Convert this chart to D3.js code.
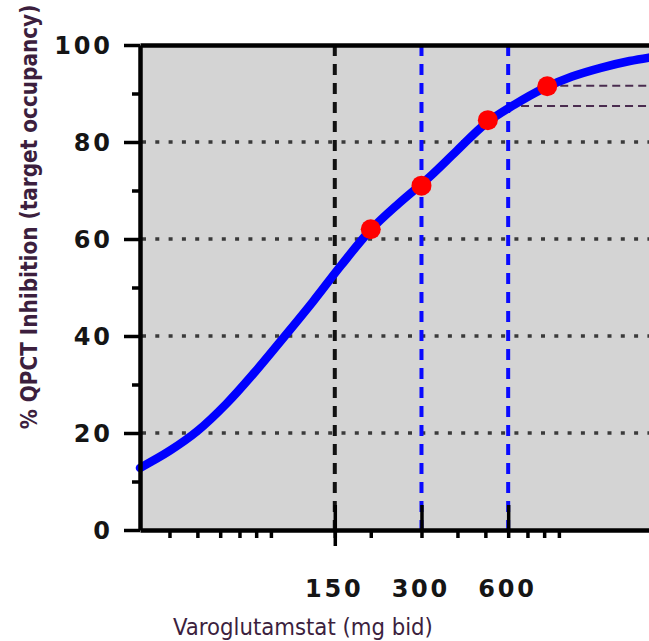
<!DOCTYPE html>
<html>
<head>
<meta charset="utf-8">
<script src="https://cdn.jsdelivr.net/npm/d3@7"></script>
<style>
body { margin: 0; background: #fff; }
</style>
</head>
<body>
<script>
// curve (dose mg, % inhibition)
var curveDose = [31.6, 40, 50, 63, 79, 100, 126, 158, 200, 251, 316, 398, 501, 631, 794, 1000, 1259, 1585, 1850];
var curvePct  = [12.8, 16.3, 20.4, 26.0, 32.5, 39.8, 47.1, 54.6, 61.9, 67.4, 72.5, 78.2, 83.8, 87.7, 91.0, 93.5, 95.3, 96.7, 97.4];

// red dots
var pointDose = [200, 300, 510, 820];
var pointPct  = [62, 71, 84.5, 91.5];

// vertical dashed dose lines
var doseLines = [150, 300, 600];

// horizontal purple dashed lines
var refStart = [820, 665];
var refPct   = [91.6, 87.4];

var yTicks = [0, 20, 40, 60, 80, 100];
var yMinor = [10, 30, 50, 70, 90];
var gridPct = [20, 40, 60, 80];
var xLabelTicks = [150, 300, 600];
var xMinor = [40, 50, 60, 70, 80, 90, 200, 400, 500, 700, 800, 900];

var xTitle = "Varoglutamstat (mg bid)";
var yTitle = "% QPCT Inhibition  (target occupancy)";

var W = 649, H = 641;
var plotLeft = 140, plotRight = 649, plotTop = 45, plotBottom = 530;
var textColor = "#3c1f3e";

var svg = d3.select("body").append("svg").attr("width", W).attr("height", H);

var x = d3.scaleLog().domain([31.6, 1850]).range([plotLeft, plotRight]);
var y = d3.scaleLinear().domain([0, 100]).range([plotBottom, plotTop]);

// plot background
svg.append("rect")
    .attr("x", plotLeft).attr("y", plotTop)
    .attr("width", plotRight - plotLeft).attr("height", plotBottom - plotTop)
    .attr("fill", "#d4d4d4");

// dotted horizontal grid
svg.append("g").selectAll("line")
    .data(gridPct).enter().append("line")
    .attr("x1", plotLeft).attr("x2", plotRight)
    .attr("y1", function(d) { return y(d); })
    .attr("y2", function(d) { return y(d); })
    .attr("stroke", "#3a3a3a")
    .attr("stroke-width", 3.5)
    .attr("stroke-dasharray", "4,9.3")
    .attr("stroke-dashoffset", -2);

// dashed dose lines (150 black, others blue)
svg.append("g").selectAll("line")
    .data(doseLines).enter().append("line")
    .attr("x1", function(d) { return x(d); })
    .attr("x2", function(d) { return x(d); })
    .attr("y1", y(100)).attr("y2", y(0))
    .attr("stroke", function(d, i) { return i == 0 ? "#111" : "#0a0aff"; })
    .attr("stroke-width", 4)
    .attr("stroke-dasharray", "11,8");

// purple reference lines
svg.append("g").selectAll("line")
    .data(refPct).enter().append("line")
    .attr("x1", function(d, i) { return x(refStart[i]); })
    .attr("x2", plotRight)
    .attr("y1", function(d) { return y(d); })
    .attr("y2", function(d) { return y(d); })
    .attr("stroke", "#4a2c4f")
    .attr("stroke-width", 2)
    .attr("stroke-dasharray", "8,5");

// curve
var curveData = curveDose.map(function(d, i) { return { dose: d, pct: curvePct[i] }; });
var line = d3.line()
    .x(function(d) { return x(d.dose); })
    .y(function(d) { return y(d.pct); })
    .curve(d3.curveCatmullRom);

svg.append("path")
    .datum(curveData)
    .attr("d", line)
    .attr("fill", "none")
    .attr("stroke", "#0000ff")
    .attr("stroke-width", 8.5)
    .attr("stroke-linecap", "round");

svg.append("g").selectAll("circle")
    .data(pointDose).enter().append("circle")
    .attr("cx", function(d) { return x(d); })
    .attr("cy", function(d, i) { return y(pointPct[i]); })
    .attr("r", 10)
    .attr("fill", "#ff0000");

// axes
function styleAxis(g, w) {
    g.selectAll("path").attr("stroke", "#000").attr("stroke-width", w);
    g.selectAll("line").attr("stroke", "#000").attr("stroke-width", 3.5);
    g.selectAll("text").remove();
}

svg.append("g")
    .attr("transform", "translate(0," + y(100) + ")")
    .call(d3.axisTop(x).tickValues([]).tickSizeOuter(0))
    .call(styleAxis, 4.5);

svg.append("g")
    .attr("transform", "translate(0," + plotBottom + ")")
    .call(d3.axisBottom(x).tickValues(xMinor.concat(xLabelTicks)).tickSize(8).tickSizeOuter(0))
    .call(styleAxis, 4.5);

svg.append("g")
    .attr("transform", "translate(0," + plotBottom + ")")
    .call(d3.axisBottom(x).tickValues([150]).tickSize(16).tickSizeOuter(0))
    .call(styleAxis, 0);

// short inward ticks at the labelled doses
svg.append("g")
    .attr("transform", "translate(0," + plotBottom + ")")
    .call(d3.axisBottom(x).tickValues(xLabelTicks).tickSizeInner(-25).tickSizeOuter(0))
    .call(styleAxis, 0);

svg.append("g")
    .attr("transform", "translate(" + plotLeft + ",0)")
    .call(d3.axisLeft(y).tickValues(yMinor).tickSize(8).tickSizeOuter(0))
    .call(styleAxis, 0);

svg.append("g")
    .attr("transform", "translate(" + plotLeft + ",0)")
    .call(d3.axisLeft(y).tickValues(yTicks).tickSize(16).tickSizeOuter(0))
    .call(styleAxis, 4.5);

// tick labels
var ls = 2.8;
svg.append("g").selectAll("text")
    .data(yTicks).enter().append("text")
    .attr("x", 110 + ls)
    .attr("y", function(d) { return y(d); })
    .attr("dy", "0.36em")
    .attr("text-anchor", "end")
    .style("font-family", "'DejaVu Sans', sans-serif")
    .style("font-weight", "bold")
    .style("font-size", "24px")
    .style("letter-spacing", ls + "px")
    .attr("fill", "#151515")
    .text(function(d) { return d; });

svg.append("g").selectAll("text")
    .data(xLabelTicks).enter().append("text")
    .attr("x", function(d) { return x(d) + ls / 2 - 2; })
    .attr("y", plotBottom + 67)
    .attr("text-anchor", "middle")
    .style("font-family", "'DejaVu Sans', sans-serif")
    .style("font-weight", "bold")
    .style("font-size", "24px")
    .style("letter-spacing", ls + "px")
    .attr("fill", "#151515")
    .text(function(d) { return d; });

// titles, sized to the width they take in the picture
function fitWidth(t, target) {
    var size = parseFloat(t.style("font-size"));
    var w = t.node().getComputedTextLength();
    t.style("font-size", (size * target / w) + "px");
}

var xt = svg.append("text")
    .attr("x", 303).attr("y", 635)
    .attr("text-anchor", "middle")
    .style("font-family", "'DejaVu Sans Condensed', 'DejaVu Sans', sans-serif")
    .style("font-stretch", "condensed")
    .style("font-size", "22px")
    .attr("fill", textColor)
    .text(xTitle);
fitWidth(xt, 260);

var yt = svg.append("text")
    .attr("transform", "translate(37,217) rotate(-90)")
    .attr("text-anchor", "middle")
    .style("font-family", "'DejaVu Sans Condensed', 'DejaVu Sans', sans-serif")
    .style("font-stretch", "condensed")
    .style("font-weight", "bold")
    .style("font-size", "22px")
    .attr("fill", textColor)
    .text(yTitle);
fitWidth(yt, 425);
</script>
</body>
</html>
